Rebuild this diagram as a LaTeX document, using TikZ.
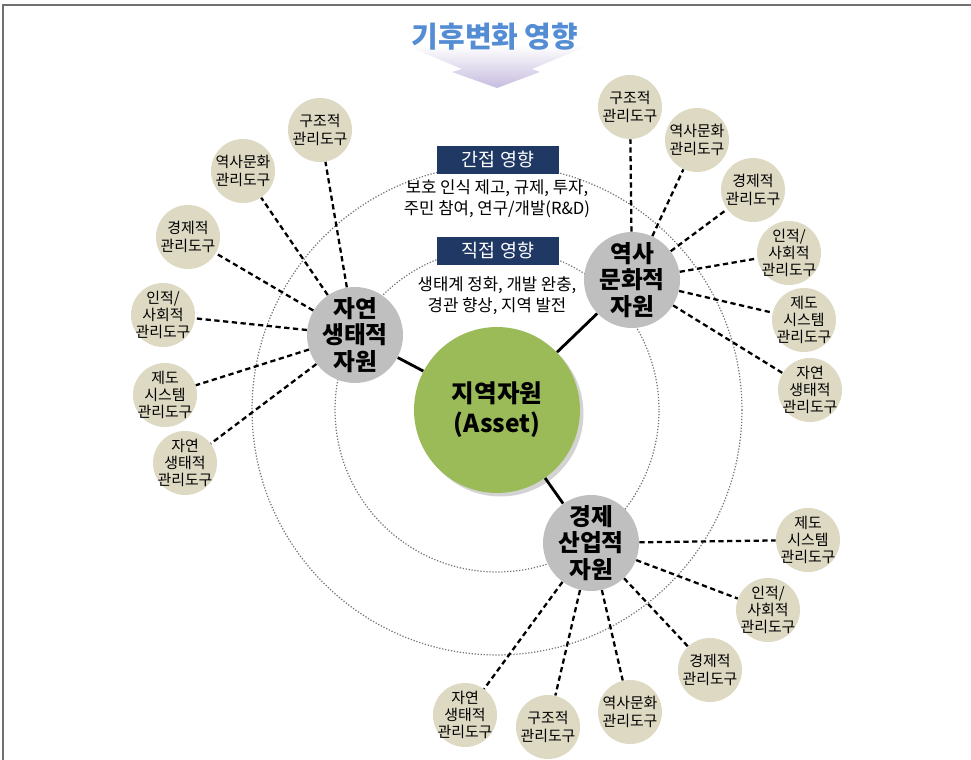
\documentclass[tikz,border=0pt]{standalone}
\usepackage{fontspec}
\setmainfont{Noto Sans CJK KR}
\usetikzlibrary{shadows}
\definecolor{titleblue}{RGB}{84,141,212}
\definecolor{navy}{RGB}{31,56,100}
\definecolor{assetgreen}{RGB}{155,187,89}
\definecolor{resgray}{RGB}{191,191,191}
\definecolor{toolbeige}{RGB}{221,217,195}
\definecolor{arrowlav}{RGB}{198,188,222}
\definecolor{framegray}{RGB}{112,112,112}
\begin{document}
\begin{tikzpicture}[
    % GLOBAL CFG
    x=0.02cm, y=-0.02cm,
    font=\fontsize{8}{10}\selectfont,
    % Styles
    asset/.style={% For the central resource
        circle,
        fill=assetgreen,
        drop shadow={opacity=0.35, shadow xshift=2pt, shadow yshift=-2pt},
        minimum size=3.32cm,
        align=center,
        font=\fontsize{14}{17}\selectfont\bfseries,
        },
    resource/.style={% For the three resource groups
        circle,
        fill=resgray,
        minimum size=1.92cm,
        inner sep=-4pt,
        align=center,
        font=\fontsize{13.5}{15}\selectfont\bfseries,
        },
    tool/.style={% For the management tools
        circle,
        fill=toolbeige,
        minimum size=1.28cm,
        inner sep=-8pt,
        align=center,
        font=\fontsize{8.5}{9.8}\selectfont,
        },
    impact/.style={% For the dark impact boxes
        rectangle,
        fill=navy,
        text=white,
        minimum width=2.46cm,
        minimum height=0.48cm,
        font=\fontsize{10.5}{12}\selectfont,
        },
    effect/.style={% For the lists of effects
        align=center,
        font=\fontsize{9.5}{11.8}\selectfont,
        },
    zone/.style={% For the dotted impact rings
        black!55,
        densely dotted,
        line width=0.7pt,
        },
    link/.style={% Solid links to the center
        line width=1.6pt,
        },
    toollink/.style={% Dashed links to the tools
        line width=1.3pt,
        dash pattern=on 3pt off 2pt,
        },
    ]

    \useasboundingbox (0,0) rectangle (971,760);
    % Frame
    \draw[framegray, line width=1.2pt] (3,760) -- (3,5) -- (971,5);

    % Title and arrow
    \shade[top color=white, bottom color=arrowlav]
        (405,45) -- (590,45) -- (532,69) -- (540,72) -- (497,88)
        -- (452,72) -- (462,69) -- cycle;
    \node[text=titleblue, font=\fontsize{16.5}{18}\selectfont\bfseries] (title) at (495,37) {기후변화 영향};

    % Rings
    \coordinate (hub) at (497,410);
    \draw[zone] (hub) circle[radius=4.9cm];
    \draw[zone] (hub) circle[radius=3.24cm];

    % Impacts
    \node[impact] (indirect) at (498,160) {간접 영향};
    \node[effect] (indirectfx) at (497,199) {보호 인식 제고, 규제, 투자,\\주민 참여, 연구/개발(R\&D)};
    \node[impact] (direct) at (498,251) {직접 영향};
    \node[effect] (directfx) at (497,296) {생태계 정화, 개발 완충,\\경관 향상, 지역 발전};

    % Resources
    \node[asset] (asset) at (hub) {지역자원\\(Asset)};
    \node[resource] (natres) at (355,335) {자연\\생태적\\자원};
    \node[resource] (histres) at (632,280) {역사\\문화적\\자원};
    \node[resource] (econres) at (591,543) {경제\\산업적\\자원};

    % Tools of natres
    \node[tool] (natStruct) at (320,130) {구조적\\관리도구};
    \node[tool] (natHist) at (243,171) {역사문화\\관리도구};
    \node[tool] (natEcon) at (188,237) {경제적\\관리도구};
    \node[tool] (natSocial) at (163,315) {인적/\\사회적\\관리도구};
    \node[tool] (natInst) at (165,395) {제도\\시스템\\관리도구};
    \node[tool] (natEco) at (185,463) {자연\\생태적\\관리도구};

    % Tools of histres
    \node[tool] (histStruct) at (630,107) {구조적\\관리도구};
    \node[tool] (histHist) at (697,140) {역사문화\\관리도구};
    \node[tool] (histEcon) at (753,190) {경제적\\관리도구};
    \node[tool] (histSocial) at (789,253) {인적/\\사회적\\관리도구};
    \node[tool] (histInst) at (804,320) {제도\\시스템\\관리도구};
    \node[tool] (histEco) at (810,390) {자연\\생태적\\관리도구};

    % Tools of econres
    \node[tool] (econInst) at (808,540) {제도\\시스템\\관리도구};
    \node[tool] (econSocial) at (768,610) {인적/\\사회적\\관리도구};
    \node[tool] (econEcon) at (710,670) {경제적\\관리도구};
    \node[tool] (econHist) at (630,712) {역사문화\\관리도구};
    \node[tool] (econStruct) at (548,727) {구조적\\관리도구};
    \node[tool] (econEco) at (465,715) {자연\\생태적\\관리도구};

    % Links to the center
    \draw[link] (asset) -- (natres);
    \draw[link] (asset) -- (histres);
    \draw[link] (asset) -- (econres);

    % Links to the tools
    \draw[toollink] (natres) -- (natStruct);
    \draw[toollink] (natres) -- (natHist);
    \draw[toollink] (natres) -- (natEcon);
    \draw[toollink] (natres) -- (natSocial);
    \draw[toollink] (natres) -- (natInst);
    \draw[toollink] (natres) -- (natEco);

    \draw[toollink] (histres) -- (histStruct);
    \draw[toollink] (histres) -- (histHist);
    \draw[toollink] (histres) -- (histEcon);
    \draw[toollink] (histres) -- (histSocial);
    \draw[toollink] (histres) -- (histInst);
    \draw[toollink] (histres) -- (histEco);

    \draw[toollink] (econres) -- (econInst);
    \draw[toollink] (econres) -- (econSocial);
    \draw[toollink] (econres) -- (econEcon);
    \draw[toollink] (econres) -- (econHist);
    \draw[toollink] (econres) -- (econStruct);
    \draw[toollink] (econres) -- (econEco);

\end{tikzpicture}
\end{document}
